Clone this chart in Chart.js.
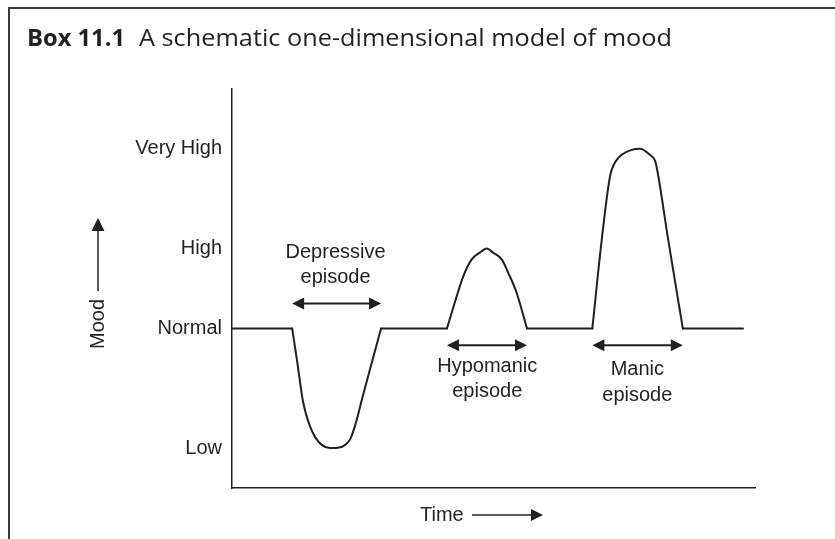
<!DOCTYPE html>
<html>
<head>
<meta charset="utf-8">
<script src="https://cdn.jsdelivr.net/npm/chart.js@4.4.0/dist/chart.umd.min.js"></script>
<style>
  html, body { margin: 0; padding: 0; background: #fff; }
</style>
</head>
<body>
<canvas id="moodChart" width="835" height="539"></canvas>
<script>
// mood curve: time runs 0-100, mood is relative to Normal (= 0)
const timePoints = [0, 11.5, 12.4, 13.6, 14.9, 15.9, 17.2, 18.7, 20.0, 21.6, 22.6, 23.5, 25.0, 28.5,
  41.1, 42.6, 44.2, 45.8, 47.4, 48.7, 49.9, 51.6, 52.8, 54.4, 56.4,
  68.9, 70.7, 72.3, 73.2, 74.5, 76.4, 78.0, 79.9, 80.9, 81.4, 83.4, 86.2, 97.7];
const moodValues = [0, 0, -3.1, -7.4, -9.8, -10.9, -11.7, -12, -12, -11.7, -11.1, -9.8, -6.8, 0,
  0, 2.6, 5.2, 6.9, 7.6, 8, 7.6, 6.9, 5.6, 3.6, 0,
  0, 8.9, 15.3, 16.6, 17.4, 17.9, 18, 17.4, 16.8, 15.6, 8.9, 0, 0];

// y axis levels
const levelValues = [-12, 0, 8, 18];
const levelLabels = ['Low', 'Normal', 'High', 'Very High'];

// episodes: double arrows + two-line labels
const episodeLabels = [['Depressive', 'episode'], ['Hypomanic', 'episode'], ['Manic', 'episode']];
const episodeFrom = [11.5, 41.1, 68.9];
const episodeTo = [28.5, 56.4, 86.2];
const arrowLevels = [2.5, -1.7, -1.7];
const labelCentres = [19.8, 48.8, 77.5];
const labelBaselines = [[7.1, 4.6], [-4.4, -6.9], [-4.7, -7.3]];

const ink = '#231f20';
const labelFont = '20px "Liberation Sans", Arial, sans-serif';

// split the curve at every point back on Normal, so the corners stay sharp
// and only the humps get smoothed
const runs = [];
let runStart = 0;
for (let i = 1; i < timePoints.length; i++) {
  if (moodValues[i] === 0) {
    runs.push([runStart, i]);
    runStart = i;
  }
}
const moodDatasets = runs.map(([a, b]) => ({
  label: 'Mood',
  data: timePoints.slice(a, b + 1).map((t, k) => ({ x: t, y: moodValues[a + k] })),
  borderColor: ink,
  borderWidth: 2,
  borderCapStyle: 'round',
  borderJoinStyle: 'round',
  pointRadius: 0,
  cubicInterpolationMode: 'monotone',
  fill: false
}));

function arrowHead(ctx, tipX, tipY, dx, dy, len, half) {
  const bx = tipX - dx * len, by = tipY - dy * len;
  ctx.beginPath();
  ctx.moveTo(tipX, tipY);
  ctx.lineTo(bx - dy * half, by + dx * half);
  ctx.lineTo(bx + dy * half, by - dx * half);
  ctx.closePath();
  ctx.fill();
}

// text squeezed/stretched to the width it has in the picture
function fitText(ctx, text, x, baseline, font, width) {
  ctx.font = font;
  const w = ctx.measureText(text).width;
  ctx.save();
  ctx.translate(x, baseline);
  ctx.scale(width / w, 1);
  ctx.textAlign = 'left';
  ctx.textBaseline = 'alphabetic';
  ctx.fillText(text, 0, 0);
  ctx.restore();
}

const moodAnnotations = {
  id: 'moodAnnotations',
  afterDraw(chart) {
    const { ctx, scales: { x, y } } = chart;
    ctx.save();
    ctx.fillStyle = ink;
    ctx.strokeStyle = ink;
    ctx.lineWidth = 2;

    // box frame (runs off the right and bottom edges)
    ctx.strokeStyle = '#3a3a3a';
    ctx.beginPath();
    ctx.moveTo(9, 545);
    ctx.lineTo(9, 8);
    ctx.lineTo(840, 8);
    ctx.stroke();
    ctx.strokeStyle = ink;

    // header
    fitText(ctx, 'Box 11.1', 27, 46, 'bold 23px "Open Sans", sans-serif', 98);
    fitText(ctx, 'A schematic one-dimensional model of mood', 139, 46, '23px "Open Sans", sans-serif', 533);

    // episode arrows + labels
    ctx.font = labelFont;
    ctx.textAlign = 'center';
    ctx.textBaseline = 'alphabetic';
    episodeLabels.forEach((lines, i) => {
      const x1 = x.getPixelForValue(episodeFrom[i]);
      const x2 = x.getPixelForValue(episodeTo[i]);
      const ay = y.getPixelForValue(arrowLevels[i]);
      ctx.beginPath();
      ctx.moveTo(x1 + 8, ay);
      ctx.lineTo(x2 - 8, ay);
      ctx.stroke();
      arrowHead(ctx, x1, ay, -1, 0, 12, 6);
      arrowHead(ctx, x2, ay, 1, 0, 12, 6);
      lines.forEach((t, j) => {
        ctx.fillText(t, x.getPixelForValue(labelCentres[i]), y.getPixelForValue(labelBaselines[i][j]));
      });
    });

    // Mood label with upward arrow
    ctx.save();
    ctx.translate(98, 324);
    ctx.rotate(-Math.PI / 2);
    ctx.textAlign = 'center';
    ctx.textBaseline = 'middle';
    ctx.fillText('Mood', 0, 0);
    ctx.lineWidth = 1.5;
    ctx.beginPath();
    ctx.moveTo(33, 0);
    ctx.lineTo(96, 0);
    ctx.stroke();
    arrowHead(ctx, 106, 0, 1, 0, 13, 6.5);
    ctx.restore();

    // Time label with right arrow
    ctx.textAlign = 'left';
    ctx.textBaseline = 'middle';
    ctx.fillText('Time', 420, 515);
    ctx.lineWidth = 1.5;
    ctx.beginPath();
    ctx.moveTo(472, 515);
    ctx.lineTo(533, 515);
    ctx.stroke();
    arrowHead(ctx, 543, 515, 1, 0, 12, 6);

    ctx.restore();
  }
};

new Chart(document.getElementById('moodChart'), {
  type: 'line',
  data: { datasets: moodDatasets },
  options: {
    responsive: false,
    animation: false,
    layout: { padding: { top: 89, right: 80, left: 0, bottom: 0 } },
    plugins: {
      legend: { display: false },
      tooltip: { enabled: false }
    },
    scales: {
      x: {
        type: 'linear',
        min: 0,
        max: 100,
        grid: { display: false, drawTicks: false },
        border: { display: true, color: ink, width: 1.5 },
        ticks: { display: false },
        afterFit(scale) { scale.height = 51; }
      },
      y: {
        type: 'linear',
        min: -16,
        max: 24,
        grid: { display: false, drawTicks: false },
        border: { display: true, color: ink, width: 1.5 },
        ticks: {
          padding: 10,
          color: ink,
          font: { family: '"Liberation Sans", Arial, sans-serif', size: 20 },
          callback: (value) => levelLabels[levelValues.indexOf(value)]
        },
        afterBuildTicks(scale) { scale.ticks = levelValues.map(v => ({ value: v })); },
        afterFit(scale) { scale.width = 232; }
      }
    }
  },
  plugins: [moodAnnotations]
});
</script>
</body>
</html>
